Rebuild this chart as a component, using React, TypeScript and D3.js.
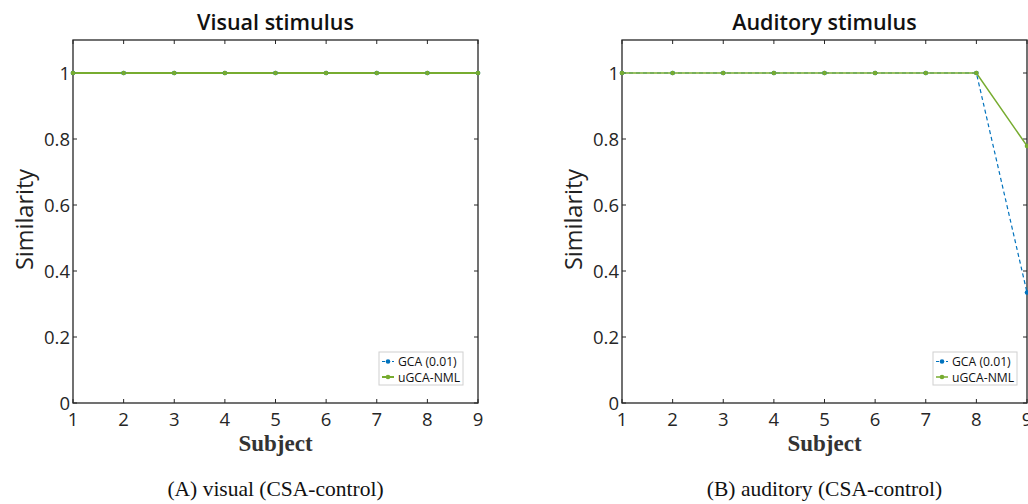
import React from 'react';
import * as d3 from 'd3';

const subjects = [1, 2, 3, 4, 5, 6, 7, 8, 9];
const yTicks = [0, 0.2, 0.4, 0.6, 0.8, 1];

const visualGCA = [1, 1, 1, 1, 1, 1, 1, 1, 1];
const visualUGCA = [1, 1, 1, 1, 1, 1, 1, 1, 1];
const auditoryGCA = [1, 1, 1, 1, 1, 1, 1, 1, 0.335];
const auditoryUGCA = [1, 1, 1, 1, 1, 1, 1, 1, 0.779];

const seriesNames = ['GCA (0.01)', 'uGCA-NML'];
const titles = ['Visual stimulus', 'Auditory stimulus'];
const captions = ['(A) visual (CSA-control)', '(B) auditory (CSA-control)'];

const BLUE = '#0072BD';
const GREEN = '#77AC30';
const AXIS = '#262626';
const SANS = '"Open Sans", "DejaVu Sans", sans-serif';

type PanelProps = {
    left: number;
    title: string;
    caption: string;
    gca: number[];
    ugca: number[];
    greenWidth: number;
    legOffset: number;
};

const Panel = ({ left, title, caption, gca, ugca, greenWidth, legOffset }: PanelProps) => {
    const top = 40, bottom = 403, width = 405;
    const x = d3.scaleLinear().domain([1, 9]).range([left, left + width]);
    const y = d3.scaleLinear().domain([0, 1.1]).range([bottom, top]);
    const line = d3.line<number>().x((d, i) => x(subjects[i])).y(d => y(d));
    const cx = left + width / 2;
    const legX = left + legOffset, legY = 352;

    return (
        <g>
            <text x={cx} y={30} textAnchor="middle" fontFamily={SANS} fontWeight={600} fontSize={21.5} fill="#111">{title}</text>
            <rect x={left} y={top} width={width} height={bottom - top} fill="none" stroke={AXIS} strokeWidth={1.3} />
            {subjects.map(s => (
                <g key={'xt' + s}>
                    <line x1={x(s)} x2={x(s)} y1={bottom} y2={bottom - 4} stroke={AXIS} strokeWidth={1} />
                    <line x1={x(s)} x2={x(s)} y1={top} y2={top + 4} stroke={AXIS} strokeWidth={1} />
                    <text x={x(s)} y={426} textAnchor="middle" fontFamily={SANS} fontSize={18.5} fill={AXIS}>{s}</text>
                </g>
            ))}
            {yTicks.map(t => (
                <g key={'yt' + t}>
                    <line x1={left} x2={left + 4} y1={y(t)} y2={y(t)} stroke={AXIS} strokeWidth={1} />
                    <line x1={left + width} x2={left + width - 4} y1={y(t)} y2={y(t)} stroke={AXIS} strokeWidth={1} />
                    <text x={left - 3} y={y(t) + 6.5} textAnchor="end" fontFamily={SANS} fontSize={18.5} fill={AXIS}>{t}</text>
                </g>
            ))}
            <text x={cx} y={451} textAnchor="middle" fontFamily='"Liberation Serif", serif' fontWeight="bold" fontSize={23} fill="#333">Subject</text>
            <text transform={`translate(${left - 40},${(top + bottom) / 2 - 2}) rotate(-90)`} textAnchor="middle" fontFamily={SANS} fontSize={23.5} fill="#222">Similarity</text>
            <path d={line(gca) || ''} fill="none" stroke={BLUE} strokeWidth={1.2} strokeDasharray="4,3" />
            <path d={line(ugca) || ''} fill="none" stroke={GREEN} strokeWidth={greenWidth} />
            {gca.map((d, i) => <circle key={'g' + i} cx={x(subjects[i])} cy={y(d)} r={2.3} fill={BLUE} />)}
            {ugca.map((d, i) => <circle key={'u' + i} cx={x(subjects[i])} cy={y(d)} r={2.3} fill={GREEN} />)}
            <rect x={legX} y={legY} width={84} height={33} fill="#fff" stroke="#d0d0d0" strokeWidth={1} />
            <line x1={legX + 3} x2={legX + 15} y1={legY + 9.5} y2={legY + 9.5} stroke={BLUE} strokeWidth={1.2} strokeDasharray="3,2" />
            <circle cx={legX + 9} cy={legY + 9.5} r={2.3} fill={BLUE} />
            <text x={legX + 19} y={legY + 14} fontFamily={SANS} fontSize={12.2} fill="#111">{seriesNames[0]}</text>
            <line x1={legX + 3} x2={legX + 15} y1={legY + 25} y2={legY + 25} stroke={GREEN} strokeWidth={greenWidth} />
            <circle cx={legX + 9} cy={legY + 25} r={2.3} fill={GREEN} />
            <text x={legX + 19} y={legY + 29.5} fontFamily={SANS} fontSize={12.2} fill="#111">{seriesNames[1]}</text>
            <text x={cx} y={496} textAnchor="middle" fontFamily='"Liberation Serif", serif' fontSize={21.5} fill="#111">{caption}</text>
        </g>
    );
};

export default function App() {
    return (
        <svg width={1028} height={504} style={{ position: 'absolute', left: 0, top: 0, background: '#fff' }}>
            <rect width={1028} height={504} fill="#fff" />
            <Panel left={73} title={titles[0]} caption={captions[0]} gca={visualGCA} ugca={visualUGCA} greenWidth={2} legOffset={306} />
            <Panel left={622} title={titles[1]} caption={captions[1]} gca={auditoryGCA} ugca={auditoryUGCA} greenWidth={1.5} legOffset={311} />
        </svg>
    );
}
